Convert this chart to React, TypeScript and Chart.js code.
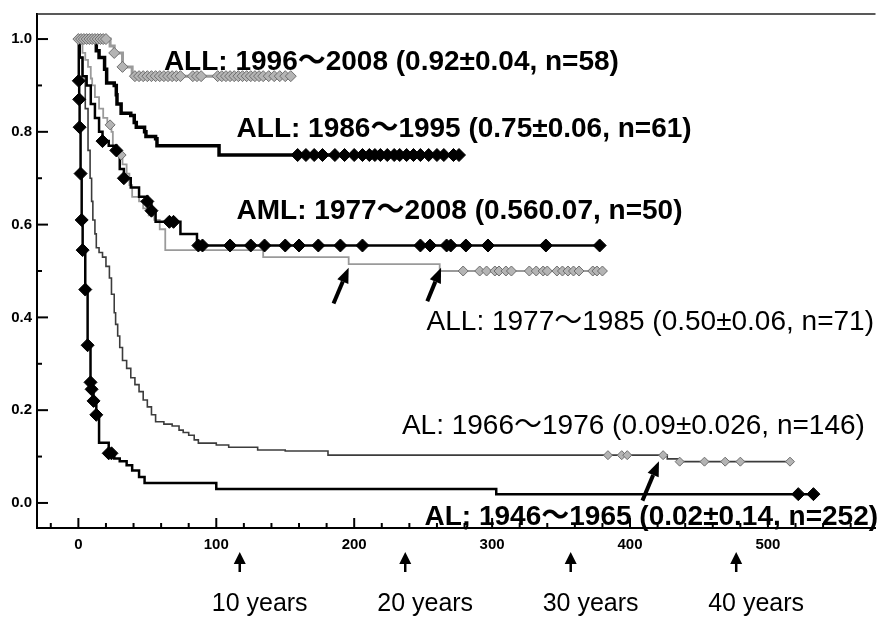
import React, { useEffect, useRef } from "react";
import { Chart, registerables } from "chart.js";

Chart.register(...registerables);

// ---------------- data ----------------
const yTickValues = [0, 0.2, 0.4, 0.6, 0.8, 1.0];
const yMinorTickValues = [0.1, 0.3, 0.5, 0.7, 0.9];
const xTickValues = [0, 100, 200, 300, 400, 500];
const xMinorTickValues = [-20, 20, 40, 60, 80, 120, 140, 160, 180, 220, 240, 260, 280, 320, 340, 360, 380, 420, 440, 460, 480, 520, 540, 560];

// ALL 1996-2008
const all9608Times = [0, 23, 26, 32, 39, 155];
const all9608Surv = [1.0, 0.985, 0.97, 0.94, 0.92, 0.92];
const all9608Marks = [0, 2, 4, 6, 8, 10, 12, 14, 16, 18, 20, 26, 32, 41, 44, 47, 50, 53, 56, 59, 62, 65, 68, 71, 74, 83, 86, 89, 101, 104, 107, 110, 113, 116, 119, 122, 125, 128, 131, 134, 138, 142, 146, 150, 154];

// ALL 1986-1995
const all8695Times = [4.5, 13, 15, 19, 20.5, 26, 27.5, 28, 31, 38, 40.5, 42, 48, 49, 56, 57, 102, 276];
const all8695Surv = [1.0, 0.975, 0.96, 0.935, 0.905, 0.9, 0.88, 0.86, 0.84, 0.835, 0.82, 0.81, 0.8, 0.79, 0.785, 0.77, 0.75, 0.75];
const all8695Marks = [159, 165, 171, 177, 186, 193, 200, 206, 211, 215, 219, 224, 229, 233, 238, 243, 248, 254, 260, 265, 272, 276];

// AML 1977-2008
const aml7708Times = [0, 1, 3, 6, 9, 12, 15, 17.5, 22, 27.5, 30, 33, 38, 44, 50, 53, 56, 74, 86, 380];
const aml7708Surv = [1.0, 0.96, 0.92, 0.9, 0.86, 0.83, 0.8, 0.78, 0.77, 0.76, 0.72, 0.7, 0.68, 0.66, 0.65, 0.63, 0.606, 0.58, 0.555, 0.555];
const aml7708Marks = [17.5, 27.5, 33, 50, 53, 66, 69, 87, 90, 110, 125, 135, 150, 160, 174, 190, 206, 248, 255, 267, 270, 281, 297, 339, 378];

// ALL 1977-1985
const all7785Times = [0, 3, 5, 7, 9, 10, 12, 15, 18, 21, 24, 25, 28, 32, 35, 37, 39, 44, 47, 51, 55, 59, 63, 134, 196, 262, 380];
const all7785Surv = [1.0, 0.97, 0.955, 0.94, 0.915, 0.9, 0.875, 0.85, 0.83, 0.815, 0.8, 0.77, 0.75, 0.73, 0.71, 0.685, 0.66, 0.65, 0.635, 0.62, 0.61, 0.59, 0.545, 0.53, 0.515, 0.5, 0.5];
const all7785Marks = [23, 31, 279, 291, 296, 302, 305, 310, 314, 327, 332, 337, 340, 347, 351, 355, 359, 363, 373, 376, 380];

// AL 1966-1976
const al6676Times = [0, 0.8, 3, 5, 7, 8.5, 9.6, 10.5, 12, 13, 15, 17.5, 20, 22.5, 24, 26, 27, 28.5, 30, 32, 35, 38, 41, 44, 47, 50, 53, 56, 62, 68, 73, 76, 80, 84, 87, 100, 109, 130, 150, 181, 427, 435, 517];
const al6676Surv = [1.0, 0.96, 0.92, 0.85, 0.76, 0.7, 0.65, 0.61, 0.58, 0.55, 0.54, 0.53, 0.51, 0.485, 0.45, 0.41, 0.385, 0.36, 0.335, 0.307, 0.29, 0.27, 0.255, 0.24, 0.222, 0.207, 0.19, 0.175, 0.17, 0.166, 0.157, 0.152, 0.146, 0.136, 0.129, 0.125, 0.12, 0.114, 0.112, 0.103, 0.095, 0.089, 0.089];
const al6676Marks = [384, 394, 398, 424, 436, 454, 469, 480, 516];

// AL 1946-1965
const al4665Times = [0, 0.3, 0.6, 0.9, 1.6, 2.4, 3.1, 5, 6.7, 8.8, 9.6, 11, 13, 15, 22, 26, 30, 35, 39, 44, 48, 100, 303, 533];
const al4665Surv = [1.0, 0.91, 0.87, 0.81, 0.71, 0.61, 0.545, 0.46, 0.34, 0.26, 0.245, 0.22, 0.19, 0.13, 0.107, 0.096, 0.09, 0.081, 0.07, 0.056, 0.043, 0.03, 0.019, 0.019];
const al4665Marks = [0.3, 0.6, 0.9, 1.6, 2.4, 3.1, 5, 6.7, 8.8, 9.6, 11, 13, 22, 24, 522, 533];

const curveLabels = [
  "ALL: 1996～2008 (0.92±0.04, n=58)",
  "ALL: 1986～1995 (0.75±0.06, n=61)",
  "AML: 1977～2008 (0.560.07, n=50)",
  "ALL: 1977～1985 (0.50±0.06, n=71)",
  "AL: 1966～1976 (0.09±0.026, n=146)",
  "AL; 1946～1965 (0.02±0.14, n=252)",
];

const yearLabels = ["10 years", "20 years", "30 years", "40 years"];
const yearArrowMonths = [117, 237, 357, 477];

// ---------------- layout / style ----------------
const FONT = '"Liberation Sans", Arial, "Noto Sans CJK JP", sans-serif';
// label anchor: left edge (months), vertical centre (survival)
const labelAnchors = [
  { x: 62, y: 0.95, bold: true, size: 28 },
  { x: 114.7, y: 0.806, bold: true, size: 28 },
  { x: 114.7, y: 0.628, bold: true, size: 28 },
  { x: 252.5, y: 0.39, bold: false, size: 28 },
  { x: 234.6, y: 0.165, bold: false, size: 28 },
  { x: 251, y: -0.03, bold: true, size: 28 },
];
const innerArrows = [
  { from: [185, 0.43], to: [196, 0.507] },
  { from: [253, 0.435], to: [263, 0.507] },
  { from: [409, 0.005], to: [421, 0.09] },
];

function stepValue(times: number[], surv: number[], t: number) {
  let v = surv[0];
  for (let i = 0; i < times.length; i++) {
    if (times[i] <= t) v = surv[i];
    else break;
  }
  return v;
}

function curve(times: number[], surv: number[]) {
  return times.map((t, i) => ({ x: t, y: surv[i] }));
}

function marks(times: number[], surv: number[], m: number[]) {
  return m.map((t) => ({ x: t, y: stepValue(times, surv, t) }));
}

function drawArrow(ctx: CanvasRenderingContext2D, x0: number, y0: number, x1: number, y1: number, shaft: number, headLen: number, headW: number) {
  const ang = Math.atan2(y1 - y0, x1 - x0);
  const bx = x1 - Math.cos(ang) * headLen;
  const by = y1 - Math.sin(ang) * headLen;
  ctx.save();
  ctx.strokeStyle = "#000";
  ctx.fillStyle = "#000";
  ctx.lineWidth = shaft;
  ctx.beginPath();
  ctx.moveTo(x0, y0);
  ctx.lineTo(bx, by);
  ctx.stroke();
  ctx.beginPath();
  ctx.moveTo(x1, y1);
  ctx.lineTo(bx + Math.sin(ang) * headW / 2, by - Math.cos(ang) * headW / 2);
  ctx.lineTo(bx - Math.sin(ang) * headW / 2, by + Math.cos(ang) * headW / 2);
  ctx.closePath();
  ctx.fill();
  ctx.restore();
}

const overlayPlugin = {
  id: "overlay",
  afterDraw(chart: any) {
    const { ctx, chartArea } = chart;
    const xs = chart.scales.x;
    const ys = chart.scales.y;
    ctx.save();
    // top border
    ctx.strokeStyle = "#222";
    ctx.lineWidth = 1.5;
    ctx.beginPath();
    ctx.moveTo(chartArea.left, chartArea.top);
    ctx.lineTo(chartArea.right, chartArea.top);
    ctx.stroke();
    // inward ticks
    ctx.strokeStyle = "#000";
    ctx.lineWidth = 2;
    const drawY = (v: number, len: number) => {
      const py = ys.getPixelForValue(v);
      ctx.beginPath();
      ctx.moveTo(chartArea.left, py);
      ctx.lineTo(chartArea.left + len, py);
      ctx.stroke();
    };
    yTickValues.forEach((v) => drawY(v, 11));
    yMinorTickValues.forEach((v) => drawY(v, 5));
    const drawX = (v: number, len: number) => {
      const px = xs.getPixelForValue(v);
      ctx.beginPath();
      ctx.moveTo(px, chartArea.bottom);
      ctx.lineTo(px, chartArea.bottom - len);
      ctx.stroke();
    };
    xTickValues.forEach((v) => drawX(v, 10));
    xMinorTickValues.forEach((v) => drawX(v, 5));

    // curve labels
    ctx.fillStyle = "#000";
    ctx.textBaseline = "middle";
    ctx.textAlign = "left";
    curveLabels.forEach((txt, i) => {
      const a = labelAnchors[i];
      ctx.font = `${a.bold ? "bold " : ""}${a.size}px ${FONT}`;
      ctx.fillText(txt, xs.getPixelForValue(a.x), ys.getPixelForValue(a.y));
    });

    // inner arrows
    innerArrows.forEach((ar) => {
      drawArrow(
        ctx,
        xs.getPixelForValue(ar.from[0]), ys.getPixelForValue(ar.from[1]),
        xs.getPixelForValue(ar.to[0]), ys.getPixelForValue(ar.to[1]),
        4, 15, 12
      );
    });

    // year arrows + labels
    ctx.font = `25px ${FONT}`;
    ctx.textBaseline = "alphabetic";
    yearArrowMonths.forEach((m, i) => {
      const px = xs.getPixelForValue(m);
      drawArrow(ctx, px, chartArea.bottom + 44, px, chartArea.bottom + 24, 2.5, 12, 12);
      ctx.fillStyle = "#000";
      ctx.fillText(yearLabels[i], px - 28, chartArea.bottom + 83);
    });
    ctx.restore();
  },
};

const BLACK = "#000000";
const GRAY_LINE = "#9a9a9a";
const GRAY_FILL = "#b4b4b4";
const GRAY_EDGE = "#6e6e6e";

export default function App() {
  const ref = useRef<HTMLCanvasElement | null>(null);
  useEffect(() => {
    if (!ref.current) return;
    const lineDs = (label: string, data: any[], color: string, width: number) => ({
      type: "line" as const,
      label,
      data,
      borderColor: color,
      borderWidth: width,
      stepped: "before" as const,
      pointRadius: 0,
      fill: false,
      tension: 0,
    });
    const markDs = (label: string, data: any[], fillC: string, edge: string, r: number) => ({
      type: "scatter" as const,
      label,
      data,
      pointStyle: "rectRot",
      pointRadius: r,
      backgroundColor: fillC,
      borderColor: edge,
      borderWidth: 1,
      showLine: false,
    });
    const chart = new Chart(ref.current, {
      type: "line",
      data: {
        datasets: [
          markDs("AL 1946-1965 marks", marks(al4665Times, al4665Surv, al4665Marks), BLACK, BLACK, 6.5),
          markDs("AML marks", marks(aml7708Times, aml7708Surv, aml7708Marks), BLACK, BLACK, 6.5),
          markDs("ALL 1986-1995 marks", marks(all8695Times, all8695Surv, all8695Marks), BLACK, BLACK, 6.5),
          markDs("ALL 1996-2008 marks", marks(all9608Times, all9608Surv, all9608Marks), GRAY_FILL, GRAY_EDGE, 5.5),
          markDs("ALL 1977-1985 marks", marks(all7785Times, all7785Surv, all7785Marks), GRAY_FILL, GRAY_EDGE, 5),
          markDs("AL 1966-1976 marks", marks(al6676Times, al6676Surv, al6676Marks), GRAY_FILL, GRAY_EDGE, 4.5),
          lineDs("AL 1946-1965", curve(al4665Times, al4665Surv), BLACK, 2.5),
          lineDs("AML 1977-2008", curve(aml7708Times, aml7708Surv), BLACK, 2.5),
          lineDs("ALL 1986-1995", curve(all8695Times, all8695Surv), BLACK, 3.5),
          lineDs("AL 1966-1976", curve(al6676Times, al6676Surv), "#3c3c3c", 1.6),
          lineDs("ALL 1977-1985", curve(all7785Times, all7785Surv), GRAY_LINE, 1.8),
          lineDs("ALL 1996-2008", curve(all9608Times, all9608Surv), GRAY_LINE, 3),
        ] as any,
      },
      options: {
        animation: false,
        responsive: true,
        maintainAspectRatio: false,
        layout: { padding: { top: 11, left: 0, right: 0, bottom: 0 } },
        plugins: { legend: { display: false }, tooltip: { enabled: false } },
        scales: {
          x: {
            type: "linear",
            min: -30,
            max: 578,
            grid: { display: false, drawTicks: false },
            border: { display: true, color: "#000", width: 2 },
            afterBuildTicks: (s: any) => { s.ticks = xTickValues.map((v) => ({ value: v })); },
            afterFit: (s: any) => { s.height = 92; },
            ticks: {
              padding: 8,
              color: "#000",
              font: { family: FONT, size: 15, weight: "bold" },
              callback: (v: any) => String(v),
            },
          },
          y: {
            type: "linear",
            min: -0.054,
            max: 1.054,
            grid: { display: false, drawTicks: false },
            border: { display: true, color: "#000", width: 2 },
            afterBuildTicks: (s: any) => { s.ticks = yTickValues.map((v) => ({ value: v })); },
            afterFit: (s: any) => { s.width = 37; },
            ticks: {
              padding: 5,
              color: "#000",
              font: { family: FONT, size: 15, weight: "bold" },
              callback: (v: any) => Number(v).toFixed(1),
            },
          },
        },
      } as any,
      plugins: [overlayPlugin],
    });
    return () => chart.destroy();
  }, []);
  return (
    <div style={{ position: "fixed", left: 0, top: 0, width: 883, height: 620, background: "#fff" }}>
      <canvas ref={ref} />
    </div>
  );
}
